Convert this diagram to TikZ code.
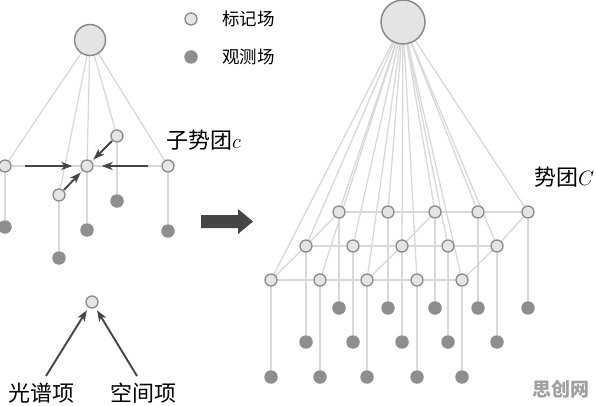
\documentclass[tikz,border=0pt]{standalone}
\usepackage{fontspec}
\newfontfamily\cjk{Noto Sans CJK SC}
\usetikzlibrary{arrows.meta,backgrounds}
\definecolor{lblfill}{HTML}{E4E4E4}
\definecolor{lbldraw}{HTML}{8A8A8A}
\definecolor{obsfill}{HTML}{8E8E8E}
\definecolor{edgec}{HTML}{D8D8D8}
\definecolor{arrc}{HTML}{454545}
\definecolor{wmark}{HTML}{A0A0A0}
\begin{document}
\begin{tikzpicture}[x=1pt,y=-1pt,
  lbl/.style={circle,fill=lblfill,draw=lbldraw,line width=1.3pt,minimum size=12pt,inner sep=0pt},
  big/.style={lbl,line width=1.5pt},
  obs/.style={circle,fill=obsfill,minimum size=13.5pt,inner sep=0pt},
  edge/.style={draw=edgec,line width=1.3pt},
  arr/.style={draw=arrc,line width=1.9pt,-{Stealth[length=11pt,width=8pt,inset=3pt]}},
  txt/.style={font=\cjk\fontsize{22}{22}\selectfont,inner sep=0pt},
  legtxt/.style={font=\cjk\fontsize{17.5}{17.5}\selectfont,inner sep=0pt}]
\useasboundingbox (0,0) rectangle (596,406);

% ---------- legend ----------
\node[lbl] (leg1) at (191,19) {};
\node[legtxt,anchor=west] (legt1) at (222,19) {标记场};
\node[obs] (leg2) at (191,57) {};
\node[legtxt,anchor=west] (legt2) at (222,57) {观测场};

% ---------- left sub-clique ----------
\node[big,minimum size=31pt] (T) at (90,40) {};
\node[lbl] (L1) at (5,166) {};
\node[lbl] (Lc) at (87,166) {};
\node[lbl] (Lr) at (168,166) {};
\node[lbl] (Lu) at (117,136) {};
\node[lbl] (Ll) at (59,195) {};
\node[obs] (O1) at (5,227) {};
\node[obs] (Oc) at (87,230) {};
\node[obs] (Ou) at (117,201) {};
\node[obs] (Or) at (168,231) {};
\node[obs] (Ol) at (59,258) {};
\node[txt,anchor=west] (sub) at (166,140) {子势团$c$};

\begin{pgfonlayer}{background}
  \foreach \n in {L1,Lc,Lr,Lu,Ll} \draw[edge] (T) -- (\n);
  \draw[edge] (L1) -- (Lc) -- (Lr);
  \draw[edge] (Lu) -- (Lc);
  \draw[edge] (Ll) -- (Lc);
  \draw[edge] (L1) -- (O1);
  \draw[edge] (Lc) -- (Oc);
  \draw[edge] (Lu) -- (Ou);
  \draw[edge] (Lr) -- (Or);
  \draw[edge] (Ll) -- (Ol);
\end{pgfonlayer}
\draw[arr,shorten <=13.5pt,shorten >=8pt] (L1) -- (Lc);
\draw[arr,shorten <=13.5pt,shorten >=8pt] (Lr) -- (Lc);
\draw[arr,shorten <=0.5pt,shorten >=2.5pt] (Lu) -- (Lc);
\draw[arr,shorten <=0.5pt,shorten >=2.5pt] (Ll) -- (Lc);

% ---------- bottom potential terms ----------
\node[lbl] (S) at (92,302) {};
\coordinate (s1) at (46,376);
\coordinate (s2) at (137,376);
\node[txt] (spec) at (42,393) {光谱项};
\node[txt] (spat) at (143,393) {空间项};
\draw[arr,shorten >=3pt] (s1) -- (S);
\draw[arr,shorten >=3pt] (s2) -- (S);

% ---------- big block arrow ----------
\fill[arrc] (201,215) -- (238,215) -- (238,209) -- (253,221.5) -- (238,234) -- (238,228) -- (201,228) -- cycle;

% ---------- right clique ----------
\node[big,minimum size=44pt] (R) at (403,22) {};
\foreach \x [count=\i] in {339,388,435,478,528} {
  \node[lbl] (A\i) at (\x,212) {};
  \node[obs] (OA\i) at (\x,308) {};
}
\foreach \x [count=\i] in {306,353,402,448,497} {
  \node[lbl] (B\i) at (\x,246) {};
  \node[obs] (OB\i) at (\x,342) {};
}
\foreach \x [count=\i] in {271,320,367,417,462} {
  \node[lbl] (C\i) at (\x,280) {};
  \node[obs] (OC\i) at (\x,377) {};
}
\node[txt,anchor=west] (cliq) at (534,177) {势团$C$};

\begin{pgfonlayer}{background}
  \foreach \r in {A,B,C} {
    \foreach \i in {1,...,5} {
      \draw[edge] (R) -- (\r\i);
      \draw[edge] (\r\i) -- (O\r\i);
    }
    \draw[edge] (\r1) -- (\r2) -- (\r3) -- (\r4) -- (\r5);
  }
  \foreach \i in {1,3,5} \draw[edge] (A\i) -- (B\i) -- (C\i);
\end{pgfonlayer}

% ---------- watermark ----------
\node[font=\cjk\bfseries\fontsize{19}{19}\selectfont,text=wmark,inner sep=0pt] (wm) at (561,389) {思创网};
\end{tikzpicture}
\end{document}
